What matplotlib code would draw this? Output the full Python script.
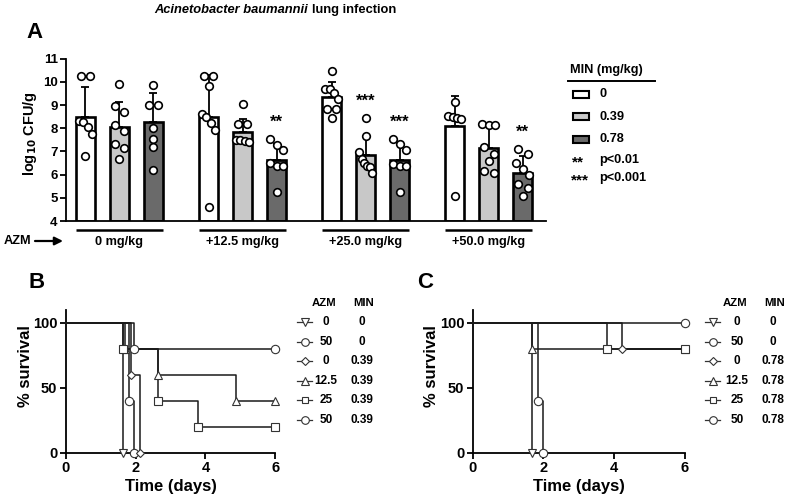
import numpy as np
import matplotlib
matplotlib.use("Agg")
import matplotlib.pyplot as plt
from matplotlib.patches import Rectangle

plt.rcParams['font.family'] = ['Liberation Sans', 'DejaVu Sans']
plt.rcParams['font.weight'] = 'bold'
plt.rcParams['axes.labelweight'] = 'bold'

W, H = 790, 500

# -------------------------
# Panel A data: log10 CFU/g in lung
# -------------------------
azm_groups = ['0 mg/kg', '+12.5 mg/kg', '+25.0 mg/kg', '+50.0 mg/kg']
min_doses = ['0', '0.39', '0.78']
bar_colors = ['white', '#c8c8c8', '#6a6a6a']

means = [8.48, 8.05, 8.27, 8.48, 7.84, 6.65, 9.34, 6.84, 6.65, 8.11, 7.14, 6.08]
sd_top = [9.80, 9.14, 9.51, 10.29, 8.40, 7.32, 10.00, 7.68, 7.37, 9.40, 8.15, 6.82]
points = [
    [10.26, 10.26, 8.30, 8.27, 8.04, 7.77, 6.79],
    [9.91, 8.97, 8.70, 8.12, 7.87, 7.34, 7.15, 6.68],
    [9.86, 9.01, 9.01, 8.01, 7.55, 7.19, 6.18],
    [10.26, 10.26, 9.84, 8.63, 8.48, 8.22, 7.94, 4.60],
    [9.04, 8.20, 8.20, 7.51, 7.51, 7.44, 7.42],
    [7.54, 7.29, 7.08, 6.48, 6.39, 6.39, 5.25],
    [10.47, 9.70, 9.70, 9.51, 9.28, 8.84, 8.84, 8.44],
    [8.44, 7.68, 6.98, 6.69, 6.51, 6.36, 6.34, 6.08],
    [7.55, 7.32, 7.05, 6.46, 6.39, 6.39, 5.25],
    [9.15, 8.55, 8.48, 8.44, 8.40, 5.08],
    [8.20, 8.14, 8.14, 7.19, 6.91, 6.58, 6.15, 6.08],
    [7.12, 6.87, 6.48, 6.25, 5.98, 5.58, 5.43, 5.08],
]
stars = ['', '', '', '', '', '**', '', '***', '***', '', '', '**']

# -------------------------
# Panels B and C data: % survival
# -------------------------
surv_markers = ['v', 'o', 'D', '^', 's', 'o']
surv_azm = ['0', '50', '0', '12.5', '25', '50']
b_min = ['0', '0', '0.39', '0.39', '0.39', '0.39']
b_times = [[1.65], [1.81, 1.96], [1.87, 2.13], [1.70, 2.65, 4.88], [1.63, 2.65, 3.80], [1.96]]
b_pct = [[0], [40, 0], [60, 0], [80, 60, 40], [80, 40, 20], [80]]
c_min = ['0', '0', '0.78', '0.78', '0.78', '0.78']
c_times = [[1.67], [1.84, 1.98], [4.23], [1.67], [3.81], []]
c_pct = [[0], [40, 0], [80], [80], [80], []]


def frac(l, t, r, b):
    return [l / W, 1 - b / H, (r - l) / W, (b - t) / H]


def swarm_offsets(vals, ppu_x, ppu_y, gap=7.0):
    vals = np.asarray(vals)
    order = np.argsort(-vals, kind='stable')
    rows = [[order[0]]]
    for a, b in zip(order[:-1], order[1:]):
        if (vals[a] - vals[b]) * ppu_y < gap:
            rows[-1].append(b)
        else:
            rows.append([b])
    off = np.zeros(len(vals))
    for r in rows:
        n = len(r)
        if n == 1:
            continue
        half = 4.7 if n == 2 else 6.5
        for j, idx in enumerate(r):
            off[idx] = (-half + 2 * half * j / (n - 1)) / ppu_x
    return off


fig = plt.figure(figsize=(W / 100, H / 100), dpi=100)

# overlay in pixel coordinates for free text / legends
ov = fig.add_axes([0, 0, 1, 1], zorder=5)
ov.set_xlim(0, W)
ov.set_ylim(H, 0)
ov.axis('off')
ov.patch.set_alpha(0)

# -------------------------
# Panel A
# -------------------------
axA = fig.add_axes(frac(66, 58.7, 546, 221))
group_gap = 3.62
bar_w = 0.56
xpos = np.array([g * group_gap + m for g in range(len(azm_groups)) for m in range(len(min_doses))])
colors = [bar_colors[m] for g in range(len(azm_groups)) for m in range(len(min_doses))]
means_a = np.array(means)
axA.bar(xpos, means_a - 4, bottom=4, width=bar_w, color=colors, edgecolor='black',
        linewidth=1.9, zorder=2)
axA.errorbar(xpos, means_a, yerr=[np.zeros_like(means_a), np.array(sd_top) - means_a],
             fmt='none', ecolor='black', elinewidth=1.3, capsize=3, capthick=1.3, zorder=3)
ppu_x = 480 / 14.11
ppu_y = 162.3 / 7
for x, pts, st in zip(xpos, points, stars):
    off = swarm_offsets(pts, ppu_x, ppu_y)
    axA.scatter(x + off, pts, s=30, facecolor='white', edgecolor='black', linewidth=1.2,
                zorder=4, clip_on=False)
    if st:
        axA.text(x, max(pts) + 0.72, st, ha='center', va='center', fontsize=12)

axA.set_xlim(-0.57, 13.54)
axA.set_ylim(4, 11)
axA.set_yticks(range(4, 12))
axA.set_xticks([])
for s in ['top', 'right']:
    axA.spines[s].set_visible(False)
for s in ['left', 'bottom']:
    axA.spines[s].set_linewidth(1.3)
axA.tick_params(axis='y', length=4, width=1.3, labelsize=9.5, pad=2)
axA.set_ylabel('log$_{10}$ CFU/g', fontsize=10.5)
axA.yaxis.set_label_coords(-0.075, 0.54)
axA.yaxis.label.set_va('center')

for g, name in enumerate(azm_groups):
    x0 = xpos[g * 3] - bar_w / 2
    x1 = xpos[g * 3 + 2] + bar_w / 2
    axA.plot([x0, x1], [3.61, 3.61], color='black', lw=1.8, clip_on=False,
             solid_capstyle='butt')
    axA.text((x0 + x1) / 2, 3.08, name, ha='center', va='center', fontsize=9.2)

ov.text(4, 241, 'AZM', ha='left', va='center', fontsize=9.2)
ov.annotate('', xy=(63, 241), xytext=(35, 241),
            arrowprops=dict(arrowstyle='-|>', color='black', lw=1.6, mutation_scale=12,
                            shrinkA=0, shrinkB=0))

# legend A
ov.text(570, 70, 'MIN (mg/kg)', ha='left', va='center', fontsize=9.2)
ov.plot([568, 655], [81, 81], color='black', lw=1.4)
for k, (lab, col) in enumerate(zip(min_doses, bar_colors)):
    yy = 94 + k * 22.5
    ov.add_patch(Rectangle((573, yy - 3.5), 16, 7, facecolor=col, edgecolor='black', lw=1.5))
    ov.text(599, yy, lab, ha='left', va='center', fontsize=9.2)
ov.text(572, 162, '**', ha='left', va='center', fontsize=11)
ov.text(599, 160, 'p<0.01', ha='left', va='center', fontsize=9.2)
ov.text(571, 180, '***', ha='left', va='center', fontsize=11)
ov.text(599, 178, 'p<0.001', ha='left', va='center', fontsize=9.2)

ov.text(26, 33, 'A', ha='left', va='center', fontsize=16)
ov.text(28, 282, 'B', ha='left', va='center', fontsize=16)
ov.text(417, 282, 'C', ha='left', va='center', fontsize=16)

# title with italic species name
title_size = 9.3
t1 = fig.text(0, 1 - 10 / H, 'Acinetobacter baumannii', style='italic', fontsize=title_size,
              ha='left', va='center')
t2 = fig.text(0, 1 - 10 / H, 'lung infection', fontsize=title_size, ha='left', va='center')
r = fig.canvas.get_renderer()
w1 = t1.get_window_extent(r).width
w2 = t2.get_window_extent(r).width
sp = 0.278 * title_size * 100 / 72
x0 = 275 - (w1 + sp + w2) / 2
t1.set_x(x0 / W)
t2.set_x((x0 + w1 + sp) / W)

# -------------------------
# Panels B and C
# -------------------------
mk_size = {'v': 6, 'o': 6, 'D': 4.3, '^': 6, 's': 5.5}


def survival_panel(ax, times, pct):
    for mk, t, p in zip(surv_markers, times, pct):
        xs = [0] + list(t)
        ys = [100] + list(p)
        last = ys[-1]
        if last > 0:
            xs.append(6)
            ys.append(last)
        ax.step(xs, ys, where='post', color='#1a1a1a', lw=1.1, clip_on=False, zorder=3)
        mx = list(t) + ([6] if last > 0 else [])
        my = list(p) + ([last] if last > 0 else [])
        ax.plot(mx, my, linestyle='none', marker=mk, ms=mk_size[mk], mfc='white',
                mec='#333333', mew=0.8, clip_on=False, zorder=4)
    ax.set_xlim(0, 6)
    ax.set_ylim(0, 110)
    ax.set_xticks([0, 2, 4, 6])
    ax.set_yticks([0, 50, 100])
    for s in ['top', 'right']:
        ax.spines[s].set_visible(False)
    for s in ['left', 'bottom']:
        ax.spines[s].set_linewidth(1.3)
    ax.tick_params(length=4, width=1.3, labelsize=10.5, pad=2)
    ax.set_xlabel('Time (days)', fontsize=12)
    ax.set_ylabel('% survival', fontsize=12)
    ax.xaxis.set_label_coords(0.5, -0.238)
    ax.xaxis.label.set_va('center')
    ax.yaxis.set_label_coords(-0.194, 0.606)
    ax.yaxis.label.set_va('center')


def survival_legend(x_line, x_azm, x_min, mins):
    ov.text(x_azm - 2, 303, 'AZM', ha='center', va='center', fontsize=8.2)
    ov.text(x_min + 2, 303, 'MIN', ha='center', va='center', fontsize=8.2)
    for k, (mk, a, m) in enumerate(zip(surv_markers, surv_azm, mins)):
        yy = 322 + k * 19.6
        ov.plot([x_line, x_line + 15], [yy, yy], color='#333333', lw=0.9)
        ov.plot(x_line + 7.5, yy, marker=mk, ms=mk_size[mk] - 0.5, mfc='white',
                mec='#333333', mew=0.8)
        ov.text(x_azm, yy, a, ha='center', va='center', fontsize=8.5)
        ov.text(x_min, yy, m, ha='center', va='center', fontsize=8.5)


axB = fig.add_axes(frac(65.7, 309.7, 275.3, 452.7))
survival_panel(axB, b_times, b_pct)
survival_legend(297, 326, 362, b_min)

axC = fig.add_axes(frac(472.7, 309.7, 684.7, 452.7))
survival_panel(axC, c_times, c_pct)
survival_legend(705, 737, 773, c_min)

fig.savefig('out.png', dpi=100)
